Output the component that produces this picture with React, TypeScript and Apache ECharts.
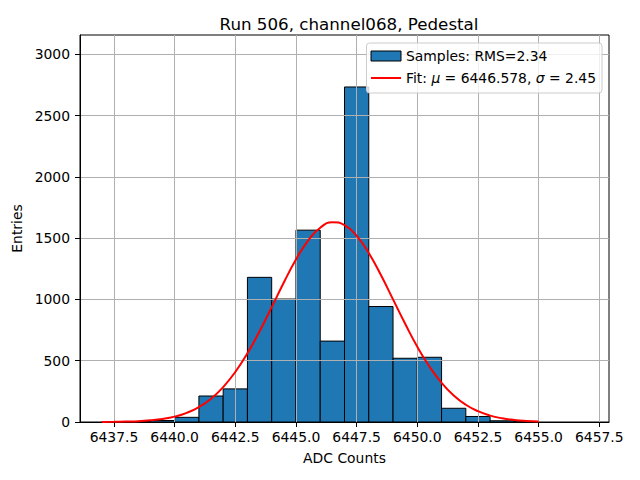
import React, { useEffect, useRef } from "react";
import * as echarts from "echarts";

const binStarts = [6437, 6438, 6439, 6440, 6441, 6442, 6443, 6444, 6445, 6446, 6447, 6448, 6449, 6450, 6451, 6452, 6453, 6454, 6455, 6456];
const binCounts = [1, 3, 12, 38, 212, 270, 1180, 1003, 1565, 660, 2733, 942, 520, 528, 112, 45, 10, 2, 0, 0];
const binWidth = 1;

const fitX = [6437, 6437.5, 6438, 6438.5, 6439, 6439.5, 6440, 6440.5, 6441, 6441.5, 6442, 6442.5, 6443, 6443.5, 6444, 6444.5, 6445, 6445.5, 6446, 6446.5, 6447, 6447.5, 6448, 6448.5, 6449, 6449.5, 6450, 6450.5, 6451, 6451.5, 6452, 6452.5, 6453, 6453.5, 6454, 6454.5, 6455];
const fitY = [1, 2, 4, 7, 14, 25, 44, 75, 122, 190, 285, 408, 560, 740, 937, 1138, 1325, 1480, 1585, 1630, 1606, 1519, 1378, 1199, 1000, 801, 614, 453, 320, 217, 141, 88, 52, 30, 17, 9, 4];

const xTicks = [6437.5, 6440.0, 6442.5, 6445.0, 6447.5, 6450.0, 6452.5, 6455.0, 6457.5];
const yTicks = [0, 500, 1000, 1500, 2000, 2500, 3000];

const titleText = "Run 506, channel068, Pedestal";
const histName = "Samples: RMS=2.34";
const fitName = "Fit: μ = 6446.578, σ = 2.45";
const xName = "ADC Counts";
const yName = "Entries";

const FONT = "DejaVu Sans";
const FS = 13.9;

export default function App() {
  const ref = useRef<HTMLDivElement>(null);
  useEffect(() => {
    if (!ref.current) return;
    const chart = echarts.init(ref.current, null, { renderer: "svg" });
    const histData = binStarts.map((s, i) => [s, s + binWidth, binCounts[i]]);
    const fitData = fitX.map((x, i) => [x, fitY[i]]);
    chart.setOption({
      animation: false,
      backgroundColor: "#ffffff",
      title: {
        text: titleText,
        left: 344,
        textAlign: "center",
        top: 10,
        textStyle: { fontFamily: FONT, fontSize: 16.7, fontWeight: "normal", color: "#000" },
      },
      grid: { left: 80, right: 31, top: 35, bottom: 58, containLabel: false, show: true, borderColor: "#000", borderWidth: 1, backgroundColor: "transparent" },
      legend: {
        orient: "vertical",
        right: 38,
        top: 43,
        align: "left",
        itemWidth: 30,
        itemHeight: 10,
        itemGap: 6,
        padding: [5, 6, 7, 4],
        backgroundColor: "rgba(255,255,255,0.8)",
        borderColor: "#cccccc",
        borderWidth: 1,
        borderRadius: 3,
        data: [
          { name: histName, icon: "rect", itemStyle: { color: "#1f77b4", borderColor: "#000", borderWidth: 1 } },
          { name: fitName, icon: "path://M0,0 L30,0 L30,2 L0,2 Z", itemStyle: { color: "#ff0000" } },
        ],
        formatter: (name: string) => name.replace("μ", "{i|μ}").replace("σ", "{i|σ}"),
        textStyle: {
          fontFamily: FONT,
          fontSize: FS,
          lineHeight: 16,
          color: "#000",
          rich: { i: { fontFamily: FONT, fontSize: FS, lineHeight: 16, fontStyle: "italic", color: "#000" } },
        },
      },
      xAxis: {
        type: "value",
        min: 6436.1,
        max: 6457.9,
        z: 3,
        name: xName,
        nameLocation: "middle",
        nameGap: 29,
        nameTextStyle: { fontFamily: FONT, fontSize: FS, color: "#000" },
        axisLine: { show: true, onZero: false, lineStyle: { color: "#000", width: 1 } },
        axisTick: { show: true, length: 5, customValues: xTicks, lineStyle: { color: "#000" } },
        axisLabel: {
          customValues: xTicks,
          margin: 8,
          fontFamily: FONT,
          fontSize: FS,
          color: "#000",
          formatter: (v: number) => v.toFixed(1),
        },
        splitLine: { show: true, lineStyle: { color: "#b0b0b0", width: 1 } },
      },
      yAxis: {
        type: "value",
        min: 0,
        max: 3157,
        z: 3,
        name: yName,
        nameLocation: "middle",
        nameGap: 47,
        nameRotate: 90,
        nameTextStyle: { fontFamily: FONT, fontSize: FS, color: "#000" },
        axisLine: { show: true, lineStyle: { color: "#000", width: 1 } },
        axisTick: { show: true, length: 5, customValues: yTicks, lineStyle: { color: "#000" } },
        axisLabel: {
          customValues: yTicks,
          margin: 10,
          fontFamily: FONT,
          fontSize: FS,
          color: "#000",
          formatter: (v: number) => String(v),
        },
        splitLine: { show: true, lineStyle: { color: "#b0b0b0", width: 1 } },
      },
      series: [
        {
          name: histName,
          type: "custom",
          z: 2,
          data: histData,
          encode: { x: [0, 1], y: 2 },
          renderItem: (params: any, api: any) => {
            if (api.value(2) <= 0) return null;
            const p0 = api.coord([api.value(0), api.value(2)]);
            const p1 = api.coord([api.value(1), 0]);
            return {
              type: "rect",
              shape: { x: p0[0], y: p0[1], width: p1[0] - p0[0], height: p1[1] - p0[1] },
              style: { fill: "#1f77b4", stroke: "#000000", lineWidth: 1 },
            };
          },
        },
        {
          name: fitName,
          type: "line",
          z: 5,
          data: fitData,
          smooth: true,
          symbol: "none",
          lineStyle: { color: "#ff0000", width: 2 },
          itemStyle: { color: "#ff0000" },
        },
      ],
    });
    return () => chart.dispose();
  }, []);
  return <div ref={ref} style={{ position: "fixed", left: 0, top: 0, width: 640, height: 480 }} />;
}
